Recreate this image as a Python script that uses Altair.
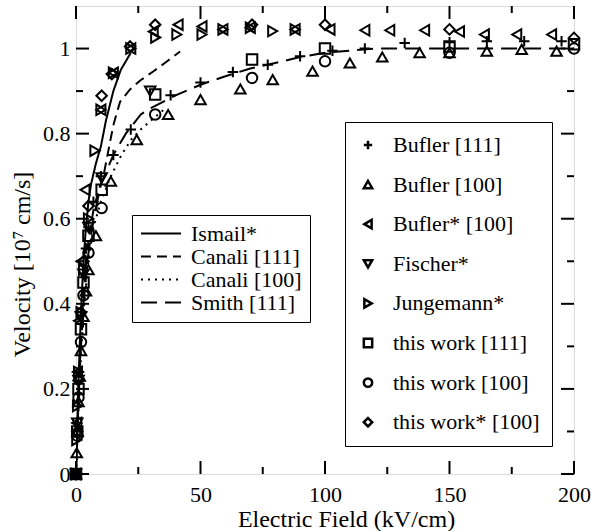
import altair as alt
import pandas as pd

# ---------------- data ----------------
bufler111_E = [0, 0.5, 1, 2, 3, 4, 5, 7, 10, 15, 22, 38, 50, 63, 77, 90, 103, 116, 132, 150, 165, 180, 195]
bufler111_v = [0, 0.12, 0.24, 0.38, 0.47, 0.53, 0.58, 0.64, 0.70, 0.75, 0.81, 0.89, 0.92, 0.945, 0.962, 0.982, 0.995, 1.0, 1.013, 1.015, 1.017, 1.017, 1.017]

bufler100_E = [0, 0.3, 0.6, 1, 1.5, 2, 3, 4, 5, 8, 14, 24.4, 37, 50, 66, 79, 95, 110, 123, 138, 150, 165, 179, 193]
bufler100_v = [0, 0.05, 0.1, 0.17, 0.23, 0.29, 0.37, 0.43, 0.48, 0.56, 0.688, 0.786, 0.845, 0.88, 0.905, 0.927, 0.947, 0.966, 0.98, 0.99, 0.99, 0.994, 0.998, 0.994]

buflerS100_E = [0, 0.3, 0.6, 1, 2, 3.6, 10, 15, 22, 31, 41, 50.6, 59, 70, 88, 102, 116, 126, 140, 154, 164, 177, 191]
buflerS100_v = [0, 0.12, 0.24, 0.36, 0.5, 0.668, 0.856, 0.943, 1.0, 1.04, 1.056, 1.052, 1.045, 1.049, 1.045, 1.045, 1.043, 1.043, 1.043, 1.04, 1.033, 1.033, 1.033]

fischer_E = [0, 0.5, 1, 2, 3, 5, 10.3, 29.8]
fischer_v = [0, 0.12, 0.22, 0.37, 0.47, 0.58, 0.696, 0.9]

jungemann_E = [0, 0.3, 0.6, 1, 2, 3, 5, 7.6, 10, 15, 22, 32, 40.5, 50.6, 59, 70, 79, 88]
jungemann_v = [0, 0.08, 0.16, 0.24, 0.38, 0.48, 0.6, 0.76, 0.856, 0.943, 1.0, 1.026, 1.033, 1.033, 1.045, 1.049, 1.041, 1.045]

work111_E = [0, 0.5, 1, 2, 3, 5, 10.3, 31.8, 70.7, 100, 150, 200]
work111_v = [0, 0.1, 0.2, 0.34, 0.45, 0.56, 0.668, 0.892, 0.974, 1.0, 1.005, 1.01]

work100_E = [0, 0.5, 1, 2, 3, 5, 10.3, 31.8, 70.7, 100, 150, 200]
work100_v = [0, 0.09, 0.18, 0.31, 0.42, 0.52, 0.625, 0.845, 0.931, 0.97, 0.99, 1.0]

workS100_E = [0, 0.5, 1, 2, 3, 5, 10.3, 14.4, 21.7, 31.8, 70.7, 100, 150, 200]
workS100_v = [0, 0.1, 0.22, 0.38, 0.5, 0.63, 0.889, 0.94, 1.005, 1.056, 1.056, 1.056, 1.045, 1.025]

ismail_E = [0, 1, 2, 3, 4, 5, 6, 8, 10, 12, 15, 18, 22]
ismail_v = [0, 0.22, 0.38, 0.5, 0.58, 0.64, 0.68, 0.73, 0.77, 0.83, 0.9, 0.95, 0.99]

canali111_E = [0, 1, 2, 3, 5, 7, 9, 11, 13, 15, 17.7, 21.7, 25.8, 31, 36.6, 41.8]
canali111_v = [0, 0.18, 0.32, 0.42, 0.55, 0.62, 0.665, 0.7, 0.76, 0.82, 0.875, 0.904, 0.925, 0.946, 0.97, 0.993]

canali100_E = [0, 1, 2, 3, 5, 7, 10, 14, 18, 22, 26, 30, 35]
canali100_v = [0, 0.15, 0.28, 0.38, 0.5, 0.58, 0.64, 0.7, 0.747, 0.785, 0.81, 0.83, 0.855]

smith_E = [0, 1, 2, 3, 5, 7, 10, 15, 20, 26, 30, 40, 50, 60, 70, 80, 90, 100, 120, 150, 200]
smith_v = [0, 0.17, 0.3, 0.4, 0.52, 0.6, 0.68, 0.75, 0.8, 0.845, 0.86, 0.89, 0.915, 0.935, 0.953, 0.966, 0.98, 0.99, 1.0, 1.0, 1.0]

marker_names = ["Bufler [111]", "Bufler [100]", "Bufler* [100]", "Fischer*", "Jungemann*",
                "this work [111]", "this work [100]", "this work* [100]"]
marker_data = [(bufler111_E, bufler111_v), (bufler100_E, bufler100_v), (buflerS100_E, buflerS100_v),
               (fischer_E, fischer_v), (jungemann_E, jungemann_v), (work111_E, work111_v),
               (work100_E, work100_v), (workS100_E, workS100_v)]
marker_shapes = ["M-1,0L1,0M0,-1L0,1", "triangle-up", "triangle-left", "triangle-down",
                 "triangle-right", "square", "circle", "diamond"]

line_names = ["Ismail*", "Canali [111]", "Canali [100]", "Smith [111]"]
line_data = [(ismail_E, ismail_v), (canali111_E, canali111_v), (canali100_E, canali100_v), (smith_E, smith_v)]
line_dashes = [[1, 0], [10, 6], [2, 5], [16, 8]]

x_major = [0, 50, 100, 150, 200]
x_minor = [25, 75, 125, 175]
y_major = [0, 0.2, 0.4, 0.6, 0.8, 1.0]
y_minor = [0.1, 0.3, 0.5, 0.7, 0.9]

# ---------------- tables ----------------
pts = pd.DataFrame([{"E": e, "v": v, "series": n}
                    for n, (es, vs) in zip(marker_names, marker_data) for e, v in zip(es, vs)])
lns = pd.DataFrame([{"E": e, "v": v, "series": n, "i": i}
                    for n, (es, vs) in zip(line_names, line_data) for i, (e, v) in enumerate(zip(es, vs))])

W, H = 498, 468
FONT = "Times New Roman, Liberation Serif, DejaVu Serif, serif"

xs = alt.Scale(domain=[0, 200], nice=False, zero=False)
ys = alt.Scale(domain=[0, 1.1], nice=False, zero=False)

xaxis = alt.Axis(values=x_major, title="Electric Field (kV/cm)", tickSize=0, domain=False, grid=False,
                 labelFont=FONT, labelFontSize=22, labelColor="black", labelPadding=10,
                 titleFont=FONT, titleFontSize=24, titleFontWeight="normal", titleColor="black",
                 titlePadding=2, titleX=270, labelFlush=False)
yaxis = alt.Axis(values=y_major, format=".1~f", title="Velocity [10⁷ cm/s]", tickSize=0, domain=False,
                 grid=False, labelFont=FONT, labelFontSize=22, labelColor="black", labelPadding=6,
                 titleFont=FONT, titleFontSize=24, titleFontWeight="normal", titleColor="black",
                 titlePadding=8, titleY=258, labelFlush=False)

lines = alt.Chart(lns).mark_line(color="black", strokeWidth=2, clip=True).encode(
    x=alt.X("E:Q", scale=xs, axis=xaxis),
    y=alt.Y("v:Q", scale=ys, axis=yaxis),
    order="i:Q",
    strokeDash=alt.StrokeDash("series:N", scale=alt.Scale(domain=line_names, range=line_dashes),
                              legend=alt.Legend(title=None, orient="none", legendX=56, legendY=209,
                                                strokeColor="black", fillColor="white", padding=8,
                                                symbolType="stroke", symbolSize=1600,
                                                symbolStrokeWidth=2, symbolStrokeColor="black",
                                                clipHeight=21, rowPadding=0, labelOffset=9,
                                                labelFont=FONT, labelFontSize=22, labelColor="black")),
)

points = alt.Chart(pts).mark_point(filled=False, color="black", strokeWidth=2, size=110, opacity=1).encode(
    x=alt.X("E:Q", scale=xs),
    y=alt.Y("v:Q", scale=ys),
    shape=alt.Shape("series:N", scale=alt.Scale(domain=marker_names, range=marker_shapes),
                    legend=alt.Legend(title=None, orient="none", legendX=269, legendY=116,
                                      strokeColor="black", fillColor="white", padding=12,
                                      symbolSize=70, symbolStrokeWidth=2.5, symbolStrokeColor="black",
                                      rowPadding=17.6, labelOffset=14,
                                      labelFont=FONT, labelFontSize=22, labelColor="black")),
)

tx_major = pd.DataFrame({"t": x_major})
tx_minor = pd.DataFrame({"t": x_minor})
ty_major = pd.DataFrame({"t": y_major})
ty_minor = pd.DataFrame({"t": y_minor})

def xticks(df, length):
    b = alt.Chart(df).mark_rule(color="black", strokeWidth=2).encode(
        x=alt.X("t:Q", scale=xs), y=alt.value(H), y2=alt.value(H - length))
    t = alt.Chart(df).mark_rule(color="black", strokeWidth=2).encode(
        x=alt.X("t:Q", scale=xs), y=alt.value(0), y2=alt.value(length))
    return b + t

def yticks(df, length):
    l = alt.Chart(df).mark_rule(color="black", strokeWidth=2).encode(
        y=alt.Y("t:Q", scale=ys), x=alt.value(0), x2=alt.value(length))
    r = alt.Chart(df).mark_rule(color="black", strokeWidth=2).encode(
        y=alt.Y("t:Q", scale=ys), x=alt.value(W), x2=alt.value(W - length))
    return l + r

chart = alt.layer(
    xticks(tx_major, 13), xticks(tx_minor, 7), yticks(ty_major, 13), yticks(ty_minor, 7),
    lines, points
).properties(
    width=W, height=H,
    autosize=alt.AutoSizeParams(type="none"),
    padding={"left": 76, "top": 6, "right": 17, "bottom": 57},
    background="white",
).configure_view(stroke="black", strokeWidth=2).configure_legend(
    cornerRadius=0, strokeWidth=1.5
).configure(font=FONT)

chart.save("out.html", embed_options={"renderer": "svg", "actions": False})
